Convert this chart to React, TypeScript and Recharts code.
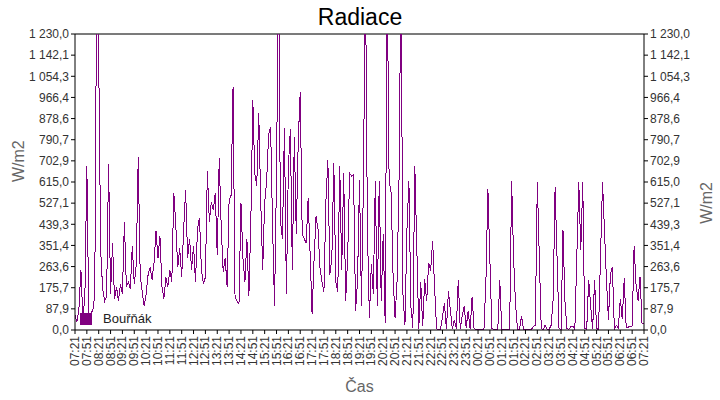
import React from 'react';
import {
  LineChart,
  Line,
  XAxis,
  YAxis,
  CartesianGrid,
  ReferenceLine,
  Legend,
} from 'recharts';

// time labels every 30 min, 07:21 -> 07:21 next day
const timeLabels = [
  '07:21', '07:51', '08:21', '08:51', '09:21', '09:51', '10:21', '10:51',
  '11:21', '11:51', '12:21', '12:51', '13:21', '13:51', '14:21', '14:51',
  '15:21', '15:51', '16:21', '16:51', '17:21', '17:51', '18:21', '18:51',
  '19:21', '19:51', '20:21', '20:51', '21:21', '21:51', '22:21', '22:51',
  '23:21', '23:51', '00:21', '00:51', '01:21', '01:51', '02:21', '02:51',
  '03:21', '03:51', '04:21', '04:51', '05:21', '05:51', '06:21', '06:51',
  '07:21',
];

const yTickLabels = [
  '0,0', '87,9', '175,7', '263,6', '351,4', '439,3', '527,1', '615,0',
  '702,9', '790,7', '878,6', '966,4', '1 054,3', '1 142,1', '1 230,0',
];

// Bouřňák, W/m2, one reading every 5 minutes from 07:21
const bourniak = [
  60, 35, 90, 250, 45, 140, 680, 40, 70, 80, 143, 1500, // 07:21
  1130, 330, 170, 120, 140, 690, 150, 360, 130, 180, 120, 190, // 08:21
  150, 450, 180, 200, 170, 350, 190, 270, 720, 230, 160, 100, // 09:21
  150, 230, 260, 210, 280, 410, 300, 390, 180, 130, 220, 180, // 10:21
  250, 200, 570, 440, 260, 340, 220, 420, 580, 300, 380, 250, // 11:21
  350, 200, 420, 466, 250, 190, 220, 660, 450, 530, 500, 570, // 12:21
  310, 714, 430, 240, 300, 180, 540, 560, 1010, 140, 120, 110, // 13:21
  528, 300, 200, 380, 140, 446, 955, 650, 600, 900, 540, 250, // 14:21
  530, 620, 810, 845, 430, 100, 650, 1500, 450, 380, 838, 150, // 15:21
  680, 834, 250, 803, 400, 790, 990, 400, 380, 360, 549, 320, // 16:21
  67, 290, 473, 418, 260, 200, 160, 535, 707, 230, 300, 693, // 17:21
  200, 157, 680, 250, 652, 120, 300, 652, 640, 645, 80, 200, // 18:21
  625, 100, 625, 1500, 425, 50, 274, 150, 618, 100, 618, 120, // 19:21
  398, 30, 1500, 618, 570, 225, 50, 200, 618, 1500, 150, 20, // 20:21
  412, 618, 100, 10, 680, 343, 5, 200, 15, 210, 120, 280, // 21:21
  246, 370, 180, 5, 3, 3, 55, 110, 5, 160, 83, 5, // 22:21
  42, 5, 209, 5, 60, 100, 10, 80, 5, 139, 5, 3, // 23:21
  3, 3, 3, 3, 209, 584, 290, 5, 3, 3, 3, 209, // 00:21
  3, 3, 3, 3, 3, 618, 300, 104, 3, 3, 58, 3, // 01:21
  3, 3, 3, 3, 15, 20, 615, 309, 5, 3, 20, 3, // 02:21
  3, 20, 125, 595, 300, 5, 3, 414, 118, 5, 3, 15, // 03:21
  15, 3, 309, 615, 331, 615, 5, 3, 209, 100, 3, 209, // 04:21
  5, 3, 309, 615, 414, 209, 42, 232, 263, 5, 20, 8, // 05:21
  130, 45, 214, 10, 12, 15, 17, 350, 186, 122, 222, 27, // 06:21
  28, // 07:21
];

const STEP_MIN = 5;
const TICK_MIN = 30;
const Y_MAX = 1230;

const data = bourniak.map((v, i) => ({ t: i * STEP_MIN, v }));
const xTicks = timeLabels.map((_, i) => i * TICK_MIN);
const yTicks = yTickLabels.map((_, i) => (i * Y_MAX) / (yTickLabels.length - 1));

const PURPLE = '#800080';
const FONT = '"Liberation Sans", Arial, sans-serif';

const TimeTick = (props: any) => {
  const { x, y, payload } = props;
  const label = timeLabels[Math.round(payload.value / TICK_MIN)];
  return (
    <text
      x={x}
      y={y}
      transform={`rotate(-90, ${x}, ${y})`}
      textAnchor="end"
      dominantBaseline="central"
      fontSize={12}
      fontFamily={FONT}
      fill="#333"
    >
      {label}
    </text>
  );
};

const yFormat = (v: number) => yTickLabels[Math.round((v * (yTickLabels.length - 1)) / Y_MAX)];

const LegendBox = () => (
  <div style={{ display: 'flex', alignItems: 'center', fontFamily: FONT, fontSize: 13, color: '#222' }}>
    <span style={{ width: 12, height: 12, background: PURPLE, display: 'inline-block', marginRight: 11 }} />
    Bouřňák
  </div>
);

export default function App() {
  return (
    <div style={{ position: 'absolute', left: 0, top: 0, width: 720, height: 400, background: '#fff' }}>
      <div
        style={{
          position: 'absolute',
          left: 0,
          top: 4,
          width: 720,
          textAlign: 'center',
          fontFamily: FONT,
          fontSize: 23,
          color: '#000',
        }}
      >
        Radiace
      </div>
      <LineChart width={720} height={400} data={data} margin={{ top: 34, right: 0, left: 0, bottom: 0 }}>
        <CartesianGrid vertical={false} stroke="#ebebeb" />
        <XAxis
          dataKey="t"
          type="number"
          domain={[0, 1440]}
          ticks={xTicks}
          interval={0}
          tick={<TimeTick />}
          tickSize={4}
          tickLine={{ stroke: '#000' }}
          axisLine={{ stroke: '#000' }}
          height={70}
          label={{ value: 'Čas', position: 'insideBottom', offset: 8, fill: '#666', fontSize: 16, fontFamily: FONT }}
        />
        <YAxis
          yAxisId="left"
          domain={[0, Y_MAX]}
          ticks={yTicks}
          interval={0}
          allowDataOverflow
          tickFormatter={yFormat}
          width={75}
          tickSize={4}
          tick={{ fontSize: 12, fontFamily: FONT, fill: '#333' }}
          tickLine={{ stroke: '#000' }}
          axisLine={{ stroke: '#000' }}
          label={{ value: 'W/m2', angle: -90, position: 'insideLeft', offset: 18, fill: '#666', fontSize: 16, fontFamily: FONT }}
        />
        <YAxis
          yAxisId="right"
          orientation="right"
          domain={[0, Y_MAX]}
          ticks={yTicks}
          interval={0}
          allowDataOverflow
          tickFormatter={yFormat}
          width={76}
          tickSize={4}
          tick={{ fontSize: 12, fontFamily: FONT, fill: '#333' }}
          tickLine={{ stroke: '#000' }}
          axisLine={{ stroke: '#000' }}
          label={{ value: 'W/m2', angle: -90, position: 'insideRight', offset: 14, fill: '#666', fontSize: 16, fontFamily: FONT }}
        />
        <ReferenceLine yAxisId="left" y={Y_MAX} stroke="#000" />
        <Line
          yAxisId="left"
          dataKey="v"
          type="linear"
          stroke={PURPLE}
          strokeWidth={1}
          shapeRendering="crispEdges"
          dot={false}
          isAnimationActive={false}
        />
        <Legend
          layout="vertical"
          align="center"
          verticalAlign="middle"
          content={<LegendBox />}
          wrapperStyle={{ position: 'absolute', left: 80, top: 311, width: 120 }}
        />
      </LineChart>
    </div>
  );
}
